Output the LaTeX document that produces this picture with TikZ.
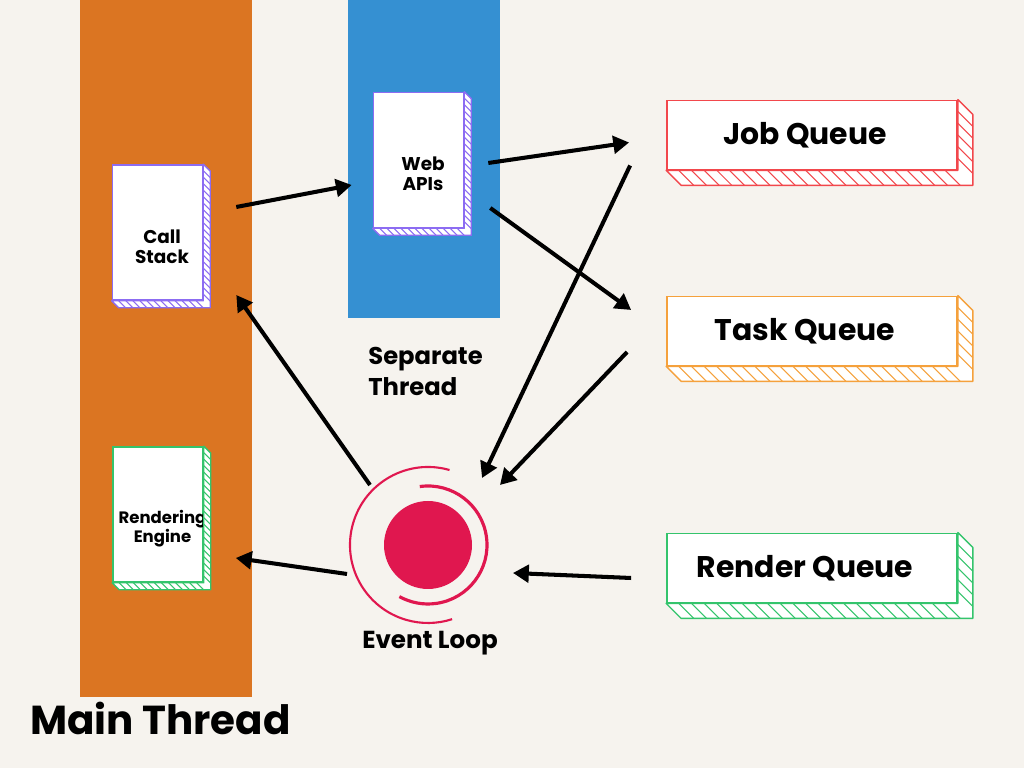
\documentclass[tikz,border=0pt]{standalone}
\usepackage{fontspec}
\setmainfont{Poppins}
\usepackage{tikz}
\usetikzlibrary{arrows.meta,calc,positioning}
\definecolor{paper}{HTML}{F6F3EE}
\definecolor{mainband}{HTML}{DB7522}
\definecolor{sideband}{HTML}{3590D2}
\definecolor{violetline}{HTML}{8C6CF2}
\definecolor{greenline}{HTML}{34C46C}
\definecolor{redline}{HTML}{F2474C}
\definecolor{amberline}{HTML}{F5A13C}
\definecolor{loopred}{HTML}{E0174F}
% extruded side of a card: node, colour, depth, hatches along bottom, hatches along side
\newcommand{\slab}[5]{%
  \filldraw[fill=white,draw=#2,line width=0.8pt,line join=round]
    (#1.north east) -- ++(#3,-#3) |- ($(#1.south west)+(#3,-#3)$) -- (#1.south west) -- (#1.south east) -- cycle;
  \foreach \k [evaluate=\k as \f using \k/(#4+1)] in {1,...,#4}
    \draw[#2,line width=0.6pt] ($(#1.south west)!\f!(#1.south east)$) -- ++(#3,-#3);
  \foreach \k [evaluate=\k as \f using \k/(#5+1)] in {1,...,#5}
    \draw[#2,line width=0.6pt] ($(#1.south east)!\f!(#1.north east)$) -- ++(#3,-#3);
}

\begin{document}
\begin{tikzpicture}[font=\bfseries,
  card/.style={draw=#1,fill=white,line width=0.9pt,inner sep=0pt,minimum width=1.8cm,minimum height=2.7cm},
  cardtext/.style={font=\fontsize{10.5}{11.5}\selectfont\bfseries,align=center,yshift=-0.28cm,xshift=0.09cm},
  queue/.style={draw=#1,fill=white,line width=1pt,inner sep=0pt,minimum width=5.8cm,minimum height=1.38cm},
  queuetext/.style={font=\fontsize{17}{21}\selectfont\bfseries,xshift=-0.14cm},
  arr/.style={-{Triangle[length=9pt,width=10pt]},line width=2.3pt,black}]
\fill[paper] (0,0) rectangle (20.48,15.36);
\useasboundingbox (0,0) rectangle (20.48,15.36);
\fill[mainband] (1.6,1.42) rectangle (5.04,15.36);
\fill[sideband] (6.96,9.0) rectangle (10.0,15.36);
\node[font=\fontsize{23}{27}\selectfont\bfseries] (mainlbl) at (3.21,1.0) {Main Thread};
\node[font=\fontsize{13.8}{17.6}\selectfont\bfseries,align=left,anchor=west,inner sep=0pt] (sidelbl) at (7.36,7.93) {Separate\\Thread};

\node[card=violetline,label={[cardtext]center:Call\\Stack}] (cs) at (3.15,10.71) {};
\node[card=violetline,label={[cardtext]center:Web\\APIs}] (web) at (8.37,12.16) {};
\node[card=greenline,label={[cardtext,font=\fontsize{9.4}{10.6}\selectfont\bfseries]center:Rendering\\Engine}] (re) at (3.16,5.07) {};
\slab{cs}{violetline}{0.14}{12}{20}
\slab{web}{violetline}{0.14}{12}{20}
\slab{re}{greenline}{0.14}{12}{20}

\node[queue=redline,label={[queuetext]center:Job Queue}] (job) at (16.24,12.66) {};
\node[queue=amberline,label={[queuetext]center:Task Queue}] (task) at (16.24,8.74) {};
\node[queue=greenline,label={[queuetext]center:Render Queue}] (render) at (16.24,4.0) {};
\slab{job}{redline}{0.3}{22}{5}
\slab{task}{amberline}{0.3}{22}{5}
\slab{render}{greenline}{0.3}{22}{5}

\node[circle,fill=loopred,minimum size=1.76cm,inner sep=0pt] (loop) at (8.56,4.46) {};
\draw[loopred,line width=1.2pt] ([shift={(74:1.56)}]loop.center) arc (74:288:1.56);
\draw[loopred,line width=1.8pt] ([shift={(98:1.18)}]loop.center) arc (98:-119:1.18);
\node[font=\fontsize{14}{17}\selectfont\bfseries] (looplbl) at (8.6,2.5) {Event Loop};

\draw[arr] ([shift={(0.66,0.51)}]cs.east) -- ([shift={(-0.42,-0.5)}]web.west);
\draw[arr] ([shift={(0.48,-0.06)}]web.east) -- ([shift={(-0.74,-0.15)}]job.west);
\draw[arr] ([shift={(0.52,-0.96)}]web.east) -- ([shift={(-0.7,0.42)}]task.west);
\draw[arr] ([shift={(-0.72,-0.61)}]job.west) -- ([shift={(1.08,1.34)}]loop.center);
\draw[arr] ([shift={(-0.78,-0.42)}]task.west) -- ([shift={(1.44,1.2)}]loop.center);
\draw[arr] ([shift={(-0.7,-0.2)}]render.west) -- ([shift={(1.7,-0.56)}]loop.center);
\draw[arr] ([shift={(-1.16,1.2)}]loop.center) -- ([shift={(0.66,-1.25)}]cs.east);
\draw[arr] ([shift={(-1.62,-0.58)}]loop.center) -- ([shift={(0.64,-0.87)}]re.east);
\end{tikzpicture}
\end{document}
